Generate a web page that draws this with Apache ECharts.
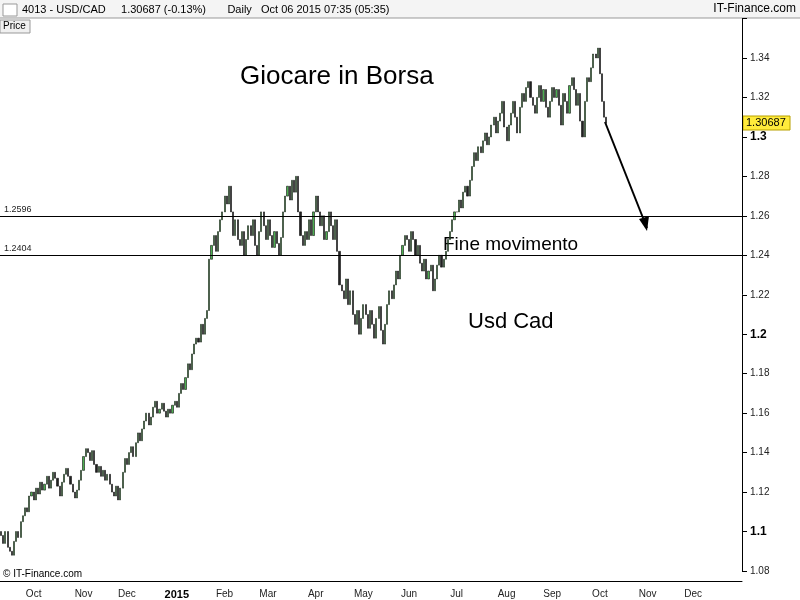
<!DOCTYPE html>
<html><head><meta charset="utf-8">
<script src="https://cdn.jsdelivr.net/npm/echarts@6/dist/echarts.min.js"></script>
<style>body{margin:0}#c{width:800px;height:600px}</style></head>
<body><div id="c"></div>
<script>
const startDate = '2014-09-10';
const endAxisDate = '2015-12-31';
const closes = [
1.098,1.094,1.100,1.092,1.090, 1.088,1.095,1.100,1.097,1.105, 1.108,1.112,1.110,1.118,1.120,
1.116,1.122,1.119,1.125,1.121, 1.124,1.128,1.122,1.126,1.130, 1.127,1.123,1.118,1.125,1.129,
1.132,1.128,1.124,1.120,1.117, 1.121,1.126,1.131,1.138,1.142, 1.140,1.136,1.141,1.134,1.130,
1.133,1.128,1.131,1.126,1.129, 1.124,1.120,1.118,1.123,1.116, 1.122,1.130,1.137,1.134,1.140,
1.143,1.138,1.145,1.150,1.146, 1.152,1.156,1.160,1.154,1.158, 1.163,1.166,1.160,1.162,1.165,
1.161,1.158,1.162,1.160,1.164, 1.166,1.163,1.170,1.175,1.172, 1.178,1.185,1.182,1.190,1.195,
1.198,1.196,1.205,1.200,1.208, 1.212,1.238,1.245,1.250,1.242, 1.252,1.258,1.262,1.270,1.266,
1.275,1.262,1.250,1.258,1.248, 1.245,1.252,1.240,1.248,1.255, 1.250,1.258,1.245,1.240,1.252,
1.262,1.255,1.248,1.258,1.250, 1.244,1.252,1.246,1.240,1.249, 1.262,1.270,1.275,1.268,1.278,
1.272,1.280,1.262,1.250,1.245, 1.252,1.248,1.258,1.250,1.262, 1.270,1.262,1.255,1.260,1.248,
1.252,1.262,1.255,1.248,1.258, 1.242,1.225,1.222,1.218,1.228, 1.215,1.222,1.210,1.205,1.212,
1.200,1.208,1.215,1.210,1.203, 1.212,1.205,1.198,1.208,1.214, 1.202,1.195,1.205,1.215,1.222,
1.218,1.225,1.232,1.228,1.240, 1.245,1.250,1.248,1.242,1.252, 1.248,1.240,1.245,1.236,1.232,
1.238,1.228,1.232,1.235,1.222, 1.228,1.235,1.240,1.234,1.238, 1.242,1.248,1.252,1.258,1.262,
1.262,1.268,1.264,1.272,1.275, 1.270,1.278,1.285,1.292,1.288, 1.295,1.292,1.298,1.302,1.296,
1.300,1.306,1.310,1.302,1.308, 1.312,1.318,1.305,1.298,1.306, 1.312,1.318,1.310,1.302,1.315,
1.322,1.318,1.325,1.328,1.320, 1.316,1.312,1.320,1.326,1.318, 1.324,1.315,1.310,1.318,1.325,
1.320,1.324,1.316,1.306,1.322, 1.318,1.312,1.326,1.330,1.324, 1.316,1.322,1.308,1.300,1.318,
1.330,1.328,1.335,1.342,1.340, 1.345,1.332,1.318,1.310,1.30687
];
const firstOpen = 1.100;
const levels = [1.2596, 1.2404];
const levelLabels = ['1.2596','1.2404'];
const annotations = ['Giocare in Borsa','Fine movimento','Usd Cad'];

const dates = [];
let d = new Date(startDate+'T00:00:00Z');
const end = new Date(endAxisDate+'T00:00:00Z');
while (d <= end) { const w=d.getUTCDay(); if(w!==0&&w!==6) dates.push(d.toISOString().slice(0,10)); d=new Date(d.getTime()+86400000); }
const candles = closes.map((c,i)=>{const o=i?closes[i-1]:firstOpen;return [o,c,Math.min(o,c),Math.max(o,c)];});
const firstOfMonth = new Set();
dates.forEach((s,i)=>{ if(i>0 && dates[i-1].slice(5,7)!==s.slice(5,7)) firstOfMonth.add(i); });
const mn=['Jan','Feb','Mar','Apr','May','Jun','Jul','Aug','Sep','Oct','Nov','Dec'];

const chart = echarts.init(document.getElementById('c'));
chart.setOption({
  animation:false, backgroundColor:'#fff',
  grid:{left:0,right:58,top:18.5,bottom:28},
  xAxis:{type:'category',data:dates,offset:10,boundaryGap:true,
    axisLine:{lineStyle:{color:'#000'}},
    axisTick:{interval:(i)=>firstOfMonth.has(i),lineStyle:{color:'#000'}},
    axisLabel:{interval:(i)=>firstOfMonth.has(i),color:'#222',fontSize:10,fontFamily:'Liberation Sans',
      formatter:(v)=>{const m=+v.slice(5,7);return m===1?'{b|'+v.slice(0,4)+'}':mn[m-1];},
      rich:{b:{fontWeight:'bold',fontSize:11,color:'#000'}}},
    splitLine:{show:false}},
  yAxis:{type:'value',position:'right',min:1.08,max:1.36,interval:0.02,
    axisLine:{show:true,lineStyle:{color:'#000'}},axisTick:{show:true,lineStyle:{color:'#000'}},
    splitLine:{show:false},
    axisLabel:{color:'#222',fontSize:10,fontFamily:'Liberation Sans',
      formatter:(v)=>{const r=Math.round(v*100);if(r===136)return '';if(r%10===0)return '{b|'+(r/100).toString()+'}';return (r/100).toFixed(2);},
      rich:{b:{fontWeight:'bold',fontSize:12,color:'#000'}}}},
  series:[{type:'candlestick',data:candles,barWidth:1.6,
    itemStyle:{color:'#4caf50',color0:'#222',borderColor:'#111',borderColor0:'#111',borderWidth:0.6},
    markLine:{symbol:'none',silent:true,lineStyle:{color:'#000',width:1,type:'solid'},
      label:{position:'insideStartTop',color:'#222',fontSize:9,formatter:(p)=>levelLabels[p.dataIndex],distance:[4,2]},
      data:levels.map(v=>({yAxis:v}))}}],
  graphic:[
    {type:'rect',shape:{x:0,y:0,width:800,height:18},style:{fill:'#f4f4f4'}},
    {type:'line',shape:{x1:0,y1:18,x2:800,y2:18},style:{stroke:'#999'}},
    {type:'rect',shape:{x:3,y:4,width:14,height:12},style:{fill:'#fff',stroke:'#999'}},
    {type:'text',left:22,top:4,style:{text:'4013 - USD/CAD     1.30687 (-0.13%)       Daily   Oct 06 2015 07:35 (05:35)',fontSize:11,fill:'#000',fontFamily:'Liberation Sans'}},
    {type:'text',right:4,top:3,style:{text:'IT-Finance.com',fontSize:12,fill:'#000',fontFamily:'Liberation Sans'}},
    {type:'rect',shape:{x:0,y:20,width:30,height:13},style:{fill:'#f0f0f0',stroke:'#999'}},
    {type:'text',left:3,top:21,style:{text:'Price',fontSize:10,fill:'#000',fontFamily:'Liberation Sans'}},
    {type:'text',left:240,top:64,style:{text:annotations[0],fontSize:26,fill:'#000',fontFamily:'Liberation Sans'}},
    {type:'text',left:443,top:235,style:{text:annotations[1],fontSize:19,fill:'#000',fontFamily:'Liberation Sans'}},
    {type:'text',left:468,top:311,style:{text:annotations[2],fontSize:22,fill:'#000',fontFamily:'Liberation Sans'}},
    {type:'line',shape:{x1:605,y1:122,x2:647,y2:228},style:{stroke:'#000',lineWidth:2}},
    {type:'polygon',shape:{points:[[647,231],[639,219],[649,216]]},style:{fill:'#000'}},
    {type:'rect',shape:{x:743,y:116,width:47,height:14},style:{fill:'#ffeb3b',stroke:'#b8a000'}},
    {type:'text',left:746,top:117,style:{text:'1.30687',fontSize:11,fill:'#000',fontFamily:'Liberation Sans'}},
    {type:'text',left:3,top:569,style:{text:'© IT-Finance.com',fontSize:10,fill:'#000',fontFamily:'Liberation Sans'}}
  ]
});
</script></body></html>
